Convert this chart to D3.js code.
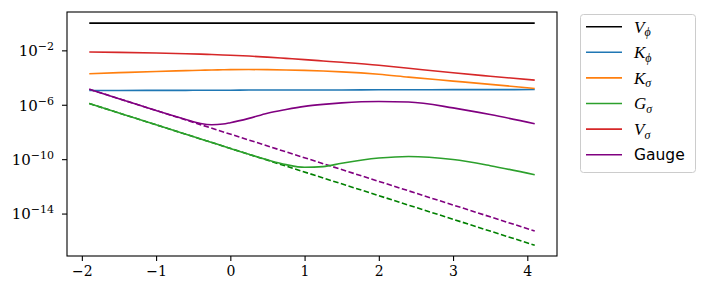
<!DOCTYPE html>
<html>
<head>
<meta charset="utf-8">
<script src="https://cdn.jsdelivr.net/npm/d3@7"></script>
<style>
  body { margin: 0; background: #fff; }
  svg { display: block; }
</style>
</head>
<body>
<div id="chart"></div>
<script>
// sample x positions shared by the solid curves
const xGrid = [-1.9, -1.5, -1.0, -0.6, -0.4, -0.25, -0.1, 0.0, 0.25, 0.5, 0.75, 1.0, 1.25, 1.5, 2.0, 2.4, 3.0, 3.5, 4.1]

// values as log10 exponents
const vPhiLog = [0, 0, 0, 0, 0, 0, 0, 0, 0, 0, 0, 0, 0, 0, 0, 0, 0, 0, 0]
const kPhiLog = [-4.95, -4.95, -4.94, -4.94, -4.93, -4.93, -4.93, -4.93, -4.92, -4.92, -4.92, -4.91, -4.91, -4.91, -4.9, -4.9, -4.89, -4.89, -4.88]
const kSigmaLog = [-3.72, -3.64, -3.55, -3.49, -3.46, -3.44, -3.43, -3.42, -3.41, -3.42, -3.44, -3.47, -3.52, -3.58, -3.76, -3.97, -4.26, -4.5, -4.8]
const gSigmaLog = [-5.91, -6.6, -7.47, -8.17, -8.51, -8.77, -9.03, -9.21, -9.64, -10.05, -10.4, -10.6, -10.55, -10.3, -9.92, -9.8, -10.03, -10.48, -11.15]
const vSigmaLog = [-2.12, -2.15, -2.2, -2.25, -2.28, -2.31, -2.34, -2.36, -2.42, -2.5, -2.59, -2.68, -2.78, -2.88, -3.1, -3.32, -3.65, -3.9, -4.19]
const gaugeLog = [-4.86, -5.55, -6.42, -7.08, -7.38, -7.47, -7.42, -7.32, -7.0, -6.62, -6.35, -6.12, -5.97, -5.86, -5.76, -5.8, -6.23, -6.72, -7.39]

// dashed reference lines (straight in log space)
const dashX = [-1.9, 4.1]
const gSigmaDashLog = [-5.91, -16.33]
const gaugeDashLog = [-4.86, -15.28]

const xTicks = [-2, -1, 0, 1, 2, 3, 4]
const yTickExps = [-2, -6, -10, -14]

const series = [
  { name: 'V', sub: 'ϕ', color: '#000000', values: vPhiLog },
  { name: 'K', sub: 'ϕ', color: '#1f77b4', values: kPhiLog },
  { name: 'K', sub: 'σ', color: '#ff7f0e', values: kSigmaLog },
  { name: 'G', sub: 'σ', color: '#2ca02c', values: gSigmaLog },
  { name: 'V', sub: 'σ', color: '#d62728', values: vSigmaLog },
  { name: 'Gauge', sub: null, color: '#800080', values: gaugeLog }
]

const dashed = [
  { color: '#008000', values: gSigmaDashLog },
  { color: '#800080', values: gaugeDashLog }
]

const serif = "'Liberation Serif', 'DejaVu Serif', serif"
const tickFont = "'DejaVu Serif', serif"

const width = 708
const height = 297
const margin = { top: 12, left: 67, right: 151, bottom: 41 }

const svg = d3
  .select('#chart')
  .append('svg')
  .attr('width', width)
  .attr('height', height)

const xScale = d3.scaleLinear().domain([-2.2, 4.4]).range([margin.left, width - margin.right])
const yScale = d3
  .scaleLog()
  .domain([Math.pow(10, -17.12), Math.pow(10, 0.82)])
  .range([height - margin.bottom, margin.top])

const line = d3
  .line()
  .x(d => xScale(d[0]))
  .y(d => yScale(Math.pow(10, d[1])))
  .curve(d3.curveMonotoneX)

const plot = svg.append('g')

// dashed first so the solid curves sit on top where they overlap
dashed.forEach(s => {
  plot
    .append('path')
    .datum(dashX.map((x, i) => [x, s.values[i]]))
    .attr('d', line)
    .attr('fill', 'none')
    .attr('stroke', s.color)
    .attr('stroke-width', 1.6)
    .attr('stroke-dasharray', '5.5,2.5')
})

series.forEach(s => {
  plot
    .append('path')
    .datum(xGrid.map((x, i) => [x, s.values[i]]))
    .attr('d', line)
    .attr('fill', 'none')
    .attr('stroke', s.color)
    .attr('stroke-width', 1.6)
})

// axes
const xAxis = svg
  .append('g')
  .attr('transform', `translate(0,${height - margin.bottom})`)
  .call(d3.axisBottom(xScale).tickValues(xTicks).tickSize(5).tickPadding(5).tickFormat(d => (d < 0 ? '\u2212' + Math.abs(d) : d)))
xAxis.attr('font-family', tickFont).attr('font-size', 14)
xAxis.select('.domain').remove()
xAxis.selectAll('.tick line').attr('stroke-width', 1.1)
xAxis.selectAll('.tick text').attr('fill', '#000')

const yAxis = svg
  .append('g')
  .attr('transform', `translate(${margin.left},0)`)
  .call(d3.axisLeft(yScale).tickValues(yTickExps.map(e => Math.pow(10, e))).tickSize(5).tickPadding(8).tickFormat(''))
yAxis.attr('font-family', tickFont).attr('font-size', 15)
yAxis.select('.domain').remove()
yAxis.selectAll('.tick line').attr('stroke-width', 1.1)
yAxis.selectAll('.tick text').each(function(d) {
  const t = d3.select(this)
  const e = Math.round(Math.log10(d))
  t.attr('fill', '#000').attr('dy', '0.36em')
  t.append('tspan').text('10')
  t.append('tspan').attr('dy', '-0.55em').attr('font-size', 11).text('\u2212' + Math.abs(e))
})

// frame
svg
  .append('rect')
  .attr('x', margin.left)
  .attr('y', margin.top)
  .attr('width', width - margin.left - margin.right)
  .attr('height', height - margin.top - margin.bottom)
  .attr('fill', 'none')
  .attr('stroke', '#000')
  .attr('stroke-width', 1.1)

// legend
const legend = svg.append('g').attr('transform', 'translate(580,14)')

legend
  .append('rect')
  .attr('x', 0.5)
  .attr('y', 0.5)
  .attr('width', 115)
  .attr('height', 158)
  .attr('rx', 3)
  .attr('fill', '#fff')
  .attr('stroke', '#cccccc')
  .attr('stroke-width', 1)

legend
  .selectAll('.legend-row')
  .data(series)
  .enter()
  .append('g')
  .attr('class', 'legend-row')
  .attr('transform', (d, i) => `translate(0,${12.7 + i * 25.6})`)
  .each(function(d) {
    const g = d3.select(this)
    g.append('line')
      .attr('x1', 6)
      .attr('x2', 42)
      .attr('stroke', d.color)
      .attr('stroke-width', 1.6)

    const txt = g.append('text').attr('x', 54).attr('dy', '0.35em').attr('fill', '#000')
    if (d.sub) {
      txt
        .attr('font-family', serif)
        .attr('font-style', 'italic')
        .attr('font-size', 17)
      txt.append('tspan').text(d.name)
      txt.append('tspan').attr('dy', '0.3em').attr('font-size', 12).text(d.sub)
    } else {
      txt.attr('font-family', "'DejaVu Sans', sans-serif").attr('font-size', 15.5).text(d.name)
    }
  })
</script>
</body>
</html>
